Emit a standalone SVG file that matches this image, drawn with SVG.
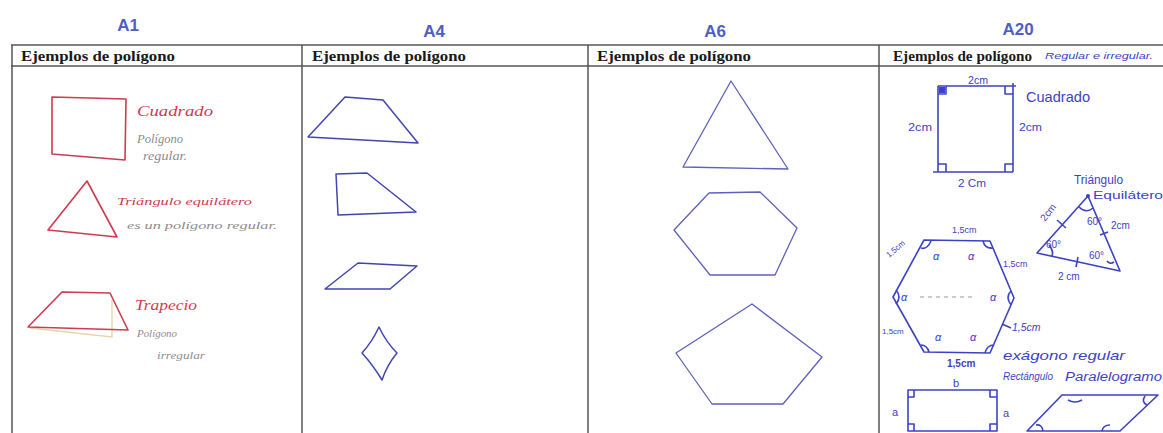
<svg xmlns="http://www.w3.org/2000/svg" width="1163" height="433" viewBox="0 0 1163 433">
<style>
.lbl{font-family:"Liberation Sans",Arial,sans-serif;font-weight:bold;font-size:17px;fill:#4d5ec6;text-anchor:middle}
.hdr{font-family:"Liberation Serif","Times New Roman",serif;font-weight:bold;font-size:14px;fill:#1a1a1a}
.grid{stroke:#555;stroke-width:1.5;fill:none}
.red{stroke:#cc3b50;stroke-width:1.6;fill:none;stroke-linejoin:round}
.redt{font-family:"Liberation Serif",serif;font-style:italic;fill:#cc3b50}
.grayt{font-family:"Liberation Serif",serif;font-style:italic;fill:#8c8c8c}
.b4{stroke:#4145b0;stroke-width:1.5;fill:none;stroke-linejoin:round}
.b6{stroke:#5d61b8;stroke-width:1.3;fill:none;stroke-linejoin:round}
.b20{stroke:#3d42c2;stroke-width:1.6;fill:none;stroke-linejoin:round}
.t20{font-family:"Liberation Sans",Arial,sans-serif;fill:#3d42c2}
</style>
<rect width="1163" height="433" fill="#fff"/>
<!-- labels -->
<g id="labels">
<text class="lbl" x="128" y="31">A1</text>
<text class="lbl" x="434" y="37">A4</text>
<text class="lbl" x="715" y="37">A6</text>
<text class="lbl" x="1018" y="35">A20</text>
</g>
<!-- table grid -->
<g id="grid">
<line class="grid" x1="11" y1="45" x2="1163" y2="45"/>
<line class="grid" x1="11" y1="66" x2="1163" y2="66"/>
<line class="grid" x1="12" y1="45" x2="12" y2="433" stroke-width="2"/>
<line class="grid" x1="302" y1="45" x2="302" y2="433"/>
<line class="grid" x1="588" y1="45" x2="588" y2="433"/>
<line class="grid" x1="879" y1="45" x2="879" y2="433" stroke-width="2.2"/>
<text class="hdr" x="21" y="61" textLength="154" lengthAdjust="spacingAndGlyphs">Ejemplos de polígono</text>
<text class="hdr" x="312" y="61" textLength="154" lengthAdjust="spacingAndGlyphs">Ejemplos de polígono</text>
<text class="hdr" x="597" y="61" textLength="154" lengthAdjust="spacingAndGlyphs">Ejemplos de polígono</text>
<text class="hdr" x="893" y="61" textLength="139" lengthAdjust="spacingAndGlyphs">Ejemplos de polígono</text>
</g>
<!-- A1 -->
<g id="A1">
<path class="red" d="M52 97 L126 99 L125 160 L52 154 Z"/>
<text class="redt" x="137" y="116" font-size="15" textLength="76" lengthAdjust="spacingAndGlyphs">Cuadrado</text>
<text class="grayt" x="137" y="143" font-size="12" textLength="46" lengthAdjust="spacingAndGlyphs">Polígono</text>
<text class="grayt" x="143" y="160" font-size="12" textLength="44" lengthAdjust="spacingAndGlyphs">regular.</text>
<path class="red" d="M87 181 L117 237 L48 230 Z" stroke-width="1.3"/>
<text class="redt" x="117" y="205" font-size="10.5" textLength="135" lengthAdjust="spacingAndGlyphs">Triángulo equilátero</text>
<text class="grayt" x="127" y="229" font-size="11" textLength="150" lengthAdjust="spacingAndGlyphs">es un polígono regular.</text>
<path d="M30 328 L112 337 L112 300" stroke="#e8d3a8" stroke-width="1.3" fill="none"/>
<path class="red" d="M62 292 L110 293 L128 330 L28 327 Z" stroke-width="2.2" stroke="#c92a40"/>
<text class="redt" x="135" y="310" font-size="14" textLength="62" lengthAdjust="spacingAndGlyphs">Trapecio</text>
<text class="grayt" x="137" y="337" font-size="11" textLength="40" lengthAdjust="spacingAndGlyphs">Polígono</text>
<text class="grayt" x="157" y="359" font-size="10" textLength="48" lengthAdjust="spacingAndGlyphs">irregular</text>
</g>
<!-- A4 -->
<g id="A4">
<path class="b4" d="M345 97 L383 100 L418 143 L308 137 Z"/>
<path class="b4" d="M336 174 L367 173 L416 212 L338 215 Z"/>
<path class="b4" d="M358 263 L417 266 L390 289 L325 289 Z"/>
<path class="b4" d="M379 327 Q386 342 397 353 Q387 365 382 380 Q373 365 362 353 Q372 342 379 327 Z" stroke-width="1.3"/>
</g>
<!-- A6 -->
<g id="A6">
<path class="b6" d="M731 81 L788 169 L683 167 Z"/>
<path class="b6" d="M709 193 L760 192 L797 228 L775 275 L710 275 L674 230 Z" stroke="#3d40a8" stroke-width="2"/>
<path class="b6" d="M752 304 L822 357 L783 404 L712 404 L676 353 Z"/>
</g>
<!-- A20 -->
<g id="A20">
<text class="t20" x="1045" y="59" font-size="8.5" font-style="italic" textLength="108" lengthAdjust="spacingAndGlyphs">Regular e irregular.</text>
<!-- square -->
<path class="b20" d="M938 86 L1016 86 M938 86 L938 172 M1013 83 L1013 172 M933 172 L1013 172"/>
<path class="b20" d="M938 94 L946 94 L946 86 M1005 86 L1005 94 L1013 94 M938 164 L946 164 L946 172 M1005 172 L1005 164 L1013 164" stroke-width="1.3"/>
<rect x="939" y="87" width="6" height="6" fill="#3d42c2"/>
<text class="t20" x="968" y="84" font-size="11" textLength="20" lengthAdjust="spacingAndGlyphs">2cm</text>
<text class="t20" x="908" y="131" font-size="11" textLength="24" lengthAdjust="spacingAndGlyphs">2cm</text>
<text class="t20" x="1019" y="131" font-size="11" textLength="23" lengthAdjust="spacingAndGlyphs">2cm</text>
<text class="t20" x="958" y="187" font-size="11" textLength="28" lengthAdjust="spacingAndGlyphs">2 Cm</text>
<text class="t20" x="1026" y="102" font-size="15" textLength="64" lengthAdjust="spacingAndGlyphs">Cuadrado</text>
<!-- triangle -->
<text class="t20" x="1074" y="184" font-size="12" textLength="49" lengthAdjust="spacingAndGlyphs">Triángulo</text>
<text class="t20" x="1093" y="199" font-size="11" textLength="70" lengthAdjust="spacingAndGlyphs">Equilátero</text>
<path class="b20" d="M1088 196 L1120 271 L1037 253 Z"/>
<circle cx="1088" cy="196" r="2" fill="#3d42c2"/>
<path class="b20" d="M1079 207 Q1086 214 1093 208 M1049 245 Q1054 251 1052 256 M1107 261 Q1110 265 1114 262" stroke-width="1.2"/>
<path class="b20" d="M1057 220 L1066 228 M1100 235 L1108 232 M1078 257 L1076 267" stroke-width="1.3"/>
<text class="t20" x="1045" y="222" font-size="10" transform="rotate(-52 1045 222)">2cm</text>
<text class="t20" x="1087" y="225" font-size="10">60°</text>
<text class="t20" x="1046" y="248" font-size="10">60°</text>
<text class="t20" x="1089" y="259" font-size="10">60°</text>
<text class="t20" x="1111" y="229" font-size="10">2cm</text>
<text class="t20" x="1058" y="280" font-size="10">2 cm</text>
<!-- hexagon -->
<path class="b20" d="M924 240 L990 241 L1014 298 L990 353 L924 352 L893 297 Z" stroke-width="1.8"/>
<path d="M920 297 L975 297" stroke="#9a9a9a" stroke-width="1" stroke-dasharray="4 4"/>
<path class="b20" d="M921 248 Q927 250 931 241 M983 241 Q985 249 993 248 M896 290 Q902 297 896 304 M1011 291 Q1005 297 1011 305 M921 345 Q927 345 929 352 M985 353 Q987 345 994 345" stroke-width="1.3"/>
<text class="t20" x="952" y="233" font-size="9">1,5cm</text>
<text class="t20" x="889" y="258" font-size="8" transform="rotate(-40 889 258)">1,5cm</text>
<text class="t20" x="1003" y="267" font-size="9">1,5cm</text>
<path class="b20" d="M1002 324 L1011 328" stroke-width="1.3"/>
<text class="t20" x="1012" y="331" font-size="10.5" font-style="italic">1,5cm</text>
<text class="t20" x="882" y="334" font-size="8">1,5cm</text>
<text class="t20" x="947" y="367" font-size="10" font-weight="bold">1,5cm</text>
<text class="t20" x="933" y="260" font-size="11" font-style="italic">α</text>
<text class="t20" x="968" y="260" font-size="11" font-style="italic">α</text>
<text class="t20" x="901" y="301" font-size="11" font-style="italic">α</text>
<text class="t20" x="990" y="301" font-size="11" font-style="italic">α</text>
<text class="t20" x="935" y="341" font-size="11" font-style="italic">α</text>
<text class="t20" x="970" y="341" font-size="11" font-style="italic">α</text>
<text class="t20" x="1003" y="360" font-size="13" font-style="italic" textLength="122" lengthAdjust="spacingAndGlyphs">exágono regular</text>
<!-- rectangle and parallelogram -->
<text class="t20" x="1003" y="380" font-size="11" font-style="italic" textLength="50" lengthAdjust="spacingAndGlyphs">Rectángulo</text>
<text class="t20" x="1065" y="381" font-size="12" font-style="italic" textLength="97" lengthAdjust="spacingAndGlyphs">Paralelogramo</text>
<path class="b20" d="M908 390 L997 390 L997 431 L908 431 Z"/>
<path class="b20" d="M908 397 L914 397 L914 390 M990 390 L990 397 L997 397 M908 424 L914 424 L914 431 M990 431 L990 424 L997 424" stroke-width="1.2"/>
<text class="t20" x="953" y="387" font-size="11">b</text>
<text class="t20" x="892" y="416" font-size="11">a</text>
<text class="t20" x="1003" y="417" font-size="11">a</text>
<path class="b20" d="M1062 395 L1158 395 L1120 431 L1027 431 Z"/>
<path class="b20" d="M1068 400 Q1075 404 1082 400 M1145 396 Q1141 402 1147 405 M1036 425 Q1042 424 1043 431 M1102 431 Q1103 425 1110 425" stroke-width="1.2"/>
</g>
</svg>
